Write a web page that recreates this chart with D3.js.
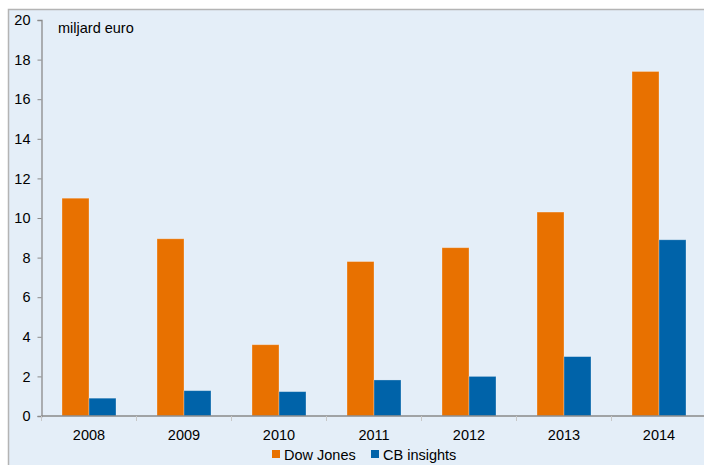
<!DOCTYPE html>
<html>
<head>
<meta charset="utf-8">
<script src="https://cdn.jsdelivr.net/npm/d3@7"></script>
<style>
  html, body { margin: 0; padding: 0; background: #fff; }
  svg { display: block; font-family: "Liberation Sans", Arial, sans-serif; }
</style>
</head>
<body>
<svg id="chart" width="704" height="465"></svg>
<script>
// Investment volumes per year, two sources
const years = ["2008", "2009", "2010", "2011", "2012", "2013", "2014"];
const dowJones = [11.0, 8.95, 3.6, 7.8, 8.5, 10.3, 17.4];
const cbInsights = [0.9, 1.28, 1.23, 1.82, 2.0, 3.0, 8.9];
const seriesNames = ["Dow Jones", "CB insights"];
const seriesColors = ["#E87100", "#0063A9"];
const yTicks = [0, 2, 4, 6, 8, 10, 12, 14, 16, 18, 20];
const unitLabel = "miljard euro";

const svg = d3.select("#chart");
const W = 704, H = 465;
const m = { left: 41.5, top: 20, bottom: 416 };
const plotRight = 41.5 + 95 * 7;

// panel background with grey frame on top/left
svg.append("rect").attr("x", 8.5).attr("y", 9.5).attr("width", W).attr("height", H)
  .attr("fill", "#E4EEF8").attr("stroke", "#B4B4B4").attr("stroke-width", 1.5);

const x = d3.scaleBand().domain(years).range([m.left, plotRight]).paddingInner(0).paddingOuter(0);
const xs = d3.scaleBand().domain([0, 1]).range([0, x.bandwidth()]).paddingOuter(0.76).paddingInner(0);
const y = d3.scaleLinear().domain([0, 20]).range([m.bottom, m.top]);

const series = [dowJones, cbInsights];
series.forEach((vals, si) => {
  svg.append("g").selectAll("rect").data(vals).join("rect")
    .attr("x", (d, i) => x(years[i]) + xs(si))
    .attr("y", d => y(d))
    .attr("width", xs.bandwidth())
    .attr("height", d => y(0) - y(d))
    .attr("fill", seriesColors[si])
    .attr("stroke", "rgba(255,255,255,0.35)")
    .attr("stroke-width", 0.8);
});

const axisColor = "#8A8A8A";

// y axis
const yAxis = svg.append("g").attr("transform", `translate(${m.left},0)`)
  .call(d3.axisLeft(y).tickValues(yTicks).tickSize(4).tickPadding(7).tickFormat(d3.format("d")));
yAxis.select(".domain").attr("stroke", axisColor).attr("stroke-width", 1.3);
yAxis.selectAll(".tick line").attr("stroke", axisColor);
yAxis.selectAll(".tick text").attr("fill", "#000").attr("font-size", 14.5)
  .attr("font-family", "Liberation Sans, Arial, sans-serif");

// x axis with ticks at category boundaries
const xAxisG = svg.append("g").attr("transform", `translate(0,${m.bottom})`);
xAxisG.append("line").attr("x1", m.left).attr("x2", plotRight)
  .attr("stroke", axisColor).attr("stroke-width", 1.3);
xAxisG.selectAll("line.tick").data(years.concat(["end"])).join("line")
  .attr("class", "tick")
  .attr("x1", (d, i) => m.left + i * x.step())
  .attr("x2", (d, i) => m.left + i * x.step())
  .attr("y1", 0).attr("y2", 5).attr("stroke", "#C8C8C8");
xAxisG.selectAll("text").data(years).join("text")
  .attr("x", d => x(d) + x.bandwidth() / 2)
  .attr("y", 24)
  .attr("text-anchor", "middle")
  .attr("font-size", 14.5)
  .attr("fill", "#000")
  .text(d => d);

// unit label
svg.append("text").attr("x", 58).attr("y", 33).attr("font-size", 14.5).attr("fill", "#000").text(unitLabel);

// legend
const legend = svg.append("g");
const legendX = [272, 371];
seriesNames.forEach((name, i) => {
  legend.append("rect").attr("x", legendX[i]).attr("y", 450).attr("width", 8).attr("height", 8)
    .attr("fill", seriesColors[i]);
  legend.append("text").attr("x", legendX[i] + 12).attr("y", 459.5).attr("font-size", 14.5)
    .attr("fill", "#000").text(name);
});
</script>
</body>
</html>
